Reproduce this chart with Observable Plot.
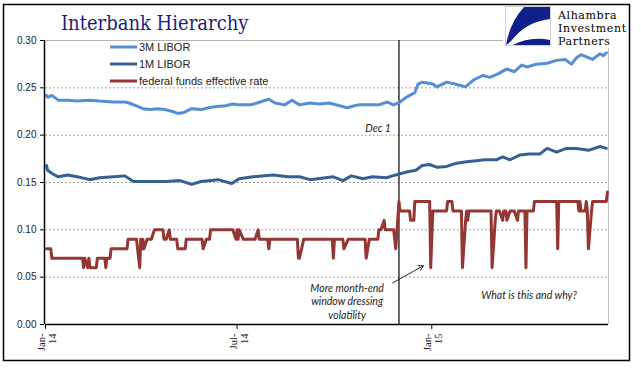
<!DOCTYPE html>
<html><head><meta charset="utf-8">
<script src="https://cdn.jsdelivr.net/npm/d3@7"></script>
<script src="https://cdn.jsdelivr.net/npm/@observablehq/plot@0.6"></script>
<style>
body{margin:0;background:#fff;}
#wrap{position:relative;width:641px;height:375px;overflow:hidden;background:#fff;}
</style></head><body><div id="wrap"></div>
<script>
// ---- data ----
const seriesNames = ["3M LIBOR", "1M LIBOR", "federal funds effective rate"];
const seriesColors = ["#558ed5", "#376092", "#943634"];

const libor3mDates = ["2014-01-02","2014-01-03","2014-01-07","2014-01-13","2014-01-22","2014-01-31","2014-02-12","2014-02-21","2014-03-06","2014-03-17","2014-03-21","2014-03-28","2014-04-03","2014-04-10","2014-04-17","2014-04-24","2014-05-01","2014-05-06","2014-05-12","2014-05-19","2014-05-28","2014-06-04","2014-06-10","2014-06-20","2014-06-27","2014-07-03","2014-07-14","2014-07-23","2014-07-31","2014-08-06","2014-08-15","2014-08-22","2014-08-29","2014-09-08","2014-09-17","2014-09-26","2014-10-06","2014-10-13","2014-10-20","2014-10-24","2014-11-03","2014-11-12","2014-11-20","2014-11-26","2014-12-02","2014-12-08","2014-12-16","2014-12-19","2014-12-23","2015-01-02","2015-01-06","2015-01-15","2015-01-23","2015-02-02","2015-02-09","2015-02-18","2015-02-25","2015-03-05","2015-03-13","2015-03-20","2015-03-27","2015-04-01","2015-04-10","2015-04-20","2015-04-29","2015-05-07","2015-05-13","2015-05-18","2015-05-22","2015-06-02","2015-06-09","2015-06-12","2015-06-15"];
const libor3mValues = [0.242,0.240,0.242,0.237,0.237,0.236,0.237,0.236,0.235,0.235,0.234,0.231,0.228,0.227,0.228,0.227,0.225,0.223,0.224,0.228,0.227,0.229,0.230,0.231,0.233,0.232,0.232,0.235,0.238,0.234,0.232,0.237,0.232,0.234,0.233,0.234,0.231,0.229,0.231,0.232,0.232,0.232,0.235,0.232,0.235,0.240,0.245,0.254,0.256,0.254,0.251,0.256,0.254,0.251,0.258,0.263,0.261,0.265,0.270,0.267,0.274,0.272,0.275,0.276,0.279,0.280,0.275,0.282,0.285,0.280,0.286,0.284,0.287];

const libor1mDates = ["2014-01-02","2014-01-03","2014-01-08","2014-01-13","2014-01-22","2014-01-31","2014-02-12","2014-02-21","2014-03-06","2014-03-17","2014-03-25","2014-04-10","2014-04-25","2014-05-08","2014-05-19","2014-05-28","2014-06-13","2014-06-26","2014-07-03","2014-07-16","2014-08-04","2014-08-18","2014-08-29","2014-09-08","2014-09-30","2014-10-09","2014-10-17","2014-10-28","2014-11-06","2014-11-19","2014-11-28","2014-12-08","2014-12-17","2014-12-23","2014-12-30","2015-01-06","2015-01-15","2015-01-23","2015-02-03","2015-02-12","2015-02-20","2015-03-03","2015-03-09","2015-03-16","2015-03-25","2015-04-03","2015-04-13","2015-04-20","2015-04-29","2015-05-08","2015-05-18","2015-05-29","2015-06-09","2015-06-15"];
const libor1mValues = [0.168,0.163,0.159,0.156,0.158,0.156,0.153,0.155,0.156,0.157,0.151,0.151,0.151,0.152,0.148,0.151,0.153,0.149,0.154,0.156,0.158,0.156,0.156,0.153,0.156,0.152,0.157,0.154,0.156,0.155,0.158,0.161,0.163,0.168,0.169,0.166,0.167,0.170,0.172,0.173,0.174,0.174,0.177,0.174,0.179,0.180,0.180,0.186,0.182,0.186,0.186,0.184,0.188,0.186];

const fedDates = ["2014-01-02","2014-01-06","2014-01-07","2014-02-05","2014-02-06","2014-02-07","2014-02-10","2014-02-11","2014-02-12","2014-02-18","2014-02-19","2014-02-26","2014-02-27","2014-02-28","2014-03-03","2014-03-04","2014-03-19","2014-03-20","2014-03-28","2014-03-31","2014-04-01","2014-04-02","2014-04-03","2014-04-04","2014-04-07","2014-04-11","2014-04-14","2014-04-22","2014-04-23","2014-04-25","2014-04-28","2014-04-29","2014-05-05","2014-05-06","2014-05-13","2014-05-14","2014-05-29","2014-05-30","2014-06-02","2014-06-05","2014-06-06","2014-06-27","2014-06-30","2014-07-01","2014-07-02","2014-07-03","2014-07-07","2014-07-18","2014-07-21","2014-07-22","2014-07-30","2014-07-31","2014-08-01","2014-08-27","2014-08-28","2014-08-29","2014-09-02","2014-09-29","2014-09-30","2014-10-01","2014-10-09","2014-10-10","2014-10-14","2014-10-30","2014-10-31","2014-11-03","2014-11-11","2014-11-12","2014-11-14","2014-11-17","2014-11-18","2014-11-26","2014-11-28","2014-12-01","2014-12-02","2014-12-11","2014-12-12","2014-12-15","2014-12-16","2014-12-30","2014-12-31","2015-01-02","2015-01-15","2015-01-16","2015-01-20","2015-01-21","2015-01-29","2015-01-30","2015-02-02","2015-02-03","2015-02-04","2015-02-05","2015-02-26","2015-02-27","2015-03-02","2015-03-03","2015-03-06","2015-03-09","2015-03-10","2015-03-12","2015-03-13","2015-03-16","2015-03-20","2015-03-23","2015-03-24","2015-03-30","2015-03-31","2015-04-01","2015-04-07","2015-04-08","2015-04-29","2015-04-30","2015-05-01","2015-05-19","2015-05-20","2015-05-21","2015-05-22","2015-05-26","2015-05-27","2015-05-28","2015-05-29","2015-06-01","2015-06-02","2015-06-15","2015-06-16"];
const fedValues = [0.08,0.08,0.07,0.07,0.06,0.07,0.06,0.07,0.06,0.06,0.07,0.07,0.06,0.07,0.07,0.08,0.08,0.09,0.09,0.06,0.09,0.08,0.09,0.08,0.09,0.09,0.10,0.10,0.09,0.09,0.10,0.09,0.09,0.08,0.08,0.09,0.09,0.08,0.09,0.09,0.10,0.10,0.09,0.10,0.09,0.10,0.09,0.09,0.10,0.09,0.09,0.08,0.09,0.09,0.07,0.07,0.09,0.09,0.07,0.09,0.09,0.08,0.09,0.09,0.07,0.09,0.09,0.10,0.10,0.11,0.10,0.10,0.08,0.13,0.12,0.12,0.11,0.11,0.13,0.13,0.06,0.12,0.12,0.13,0.13,0.12,0.12,0.06,0.11,0.12,0.11,0.12,0.12,0.06,0.11,0.12,0.12,0.11,0.12,0.12,0.11,0.12,0.12,0.11,0.12,0.12,0.06,0.12,0.12,0.13,0.13,0.08,0.13,0.13,0.12,0.13,0.12,0.12,0.13,0.12,0.08,0.12,0.13,0.13,0.14];

const yTicks = [0, 0.05, 0.10, 0.15, 0.20, 0.25, 0.30];
const xTickDates = ["2014-01-01", "2014-07-01", "2015-01-01"];
const xTickLabels = ["Jan-\n14", "Jul-\n14", "Jan-\n15"];
const markerDate = "2014-12-01";
const annotations = ["Dec 1", "More month-end\nwindow dressing\nvolatility", "What is this and why?"];

// ---- build ----
const parse = d3.utcParse("%Y-%m-%d");
const rows = (ds, vs) => ds.map((d, i) => ({date: parse(d), value: vs[i]}));
const s3m = rows(libor3mDates, libor3mValues);
const s1m = rows(libor1mDates, libor1mValues);
const sff = rows(fedDates, fedValues);
const xStart = parse("2014-01-01"), xEnd = parse("2015-06-17");
const xt = xTickDates.map(parse);
const lbl = new Map(xt.map((d, i) => [+d, xTickLabels[i]]));
const dec1 = parse(markerDate);
const italic = {fontFamily: "Lato, sans-serif", fontStyle: "italic", fontSize: 10.5, fill: "#222"};

const plot = Plot.plot({
  width: 641, height: 375,
  marginLeft: 45, marginRight: 33, marginTop: 40, marginBottom: 51,
  style: {fontFamily: "'Liberation Sans', Arial, sans-serif", fontSize: "10px", color: "#222", background: "transparent", overflow: "visible"},
  x: {type: "utc", domain: [xStart, xEnd], axis: null},
  y: {type: "linear", domain: [0, 0.30], axis: null},
  marks: [
    Plot.ruleY(yTicks.filter(v => v > 0 && v < 0.30), {stroke: "#8c8c8c", strokeDasharray: "2,2", strokeWidth: 0.8}),
    Plot.ruleY([0.30], {stroke: "#b4b4b4", strokeWidth: 1}),
    Plot.ruleX([xEnd], {stroke: "#c4c4c4", strokeWidth: 1}),
    Plot.ruleX([dec1], {stroke: "#000", strokeWidth: 1.2}),
    Plot.line(s3m, {x: "date", y: "value", stroke: seriesColors[0], strokeWidth: 3, strokeLinejoin: "round"}),
    Plot.line(s1m, {x: "date", y: "value", stroke: seriesColors[1], strokeWidth: 3, strokeLinejoin: "round"}),
    Plot.line(sff, {x: "date", y: "value", stroke: seriesColors[2], strokeWidth: 3, strokeLinejoin: "round"}),
    Plot.ruleY([0], {stroke: "#000", strokeWidth: 1.5}),
    Plot.ruleX([xStart], {stroke: "#000", strokeWidth: 1.5, dx: -1}),
    Plot.axisY({ticks: yTicks, tickFormat: d3.format(".2f"), tickSize: 4, tickPadding: 4, stroke: "#000", fill: "#222", fontSize: 10, dx: -1, label: null}),
    Plot.ruleX(xt, {x: d => d, y1: () => 0, y2: () => 0, insetBottom: -5, stroke: "#000", strokeWidth: 1}),
    Plot.text(xt, {x: d => d, y: () => 0, text: d => lbl.get(+d), rotate: -90, textAnchor: "end", lineAnchor: "middle", dy: 9, dx: 1.5, lineHeight: 1.05, fontFamily: "'Liberation Serif', 'Times New Roman', serif", fontSize: 10.5, fill: "#222"}),
    Plot.text([annotations[0]], {x: () => dec1, y: () => 0.207, text: d => d, textAnchor: "end", dx: -8, ...italic}),
    Plot.text([annotations[1]], {x: () => parse("2014-10-13"), y: () => 0.025, text: d => d, textAnchor: "middle", lineHeight: 1.28, ...italic}),
    Plot.text([annotations[2]], {x: () => parse("2015-04-03"), y: () => 0.031, text: d => d, textAnchor: "middle", ...italic}),
    Plot.arrow([0], {x1: () => parse("2014-11-25"), y1: () => 0.044, x2: () => parse("2014-12-24"), y2: () => 0.062, stroke: "#222", strokeWidth: 1, headLength: 8, bend: 0})
  ]
});

document.getElementById("wrap").appendChild(plot);
const svg = d3.select(plot);

const g = svg.append("g").attr("text-anchor", "start");
// white background for logo
g.append("rect").attr("x", 503).attr("y", 5).attr("width", 125).attr("height", 43).attr("fill", "#fff");
// logo box
g.append("rect").attr("x", 505.5).attr("y", 6.5).attr("width", 45).attr("height", 39).attr("fill", "#fff").attr("stroke", "#d0d0d0").attr("stroke-width", 1);
g.append("path").attr("d", "M524,7 L550,7 L550,19 Q526,22 512,40 Q509,43 506,45 Q510,22 524,7 Z").attr("fill", "#10208a");
g.append("path").attr("d", "M513,45 Q530,36 550,40 L550,45 Z").attr("fill", "#10208a");
const logoLines = ["Alhambra", "Investment", "Partners"];
logoLines.forEach((t, i) => g.append("text").text(t).attr("x", 558).attr("y", 19 + i * 13)
  .attr("font-family", "'DejaVu Serif', serif").attr("font-size", 11).attr("letter-spacing", 0.6).attr("fill", "#000"));
// title
g.append("text").text("Interbank Hierarchy").attr("x", 61).attr("y", 30)
  .attr("font-family", "'DejaVu Serif Condensed', 'DejaVu Serif', serif").attr("font-stretch", "condensed")
  .attr("font-size", 20).attr("fill", "#1c1c78");
// legend
seriesNames.forEach((n, i) => {
  const y = 47 + i * 17;
  g.append("line").attr("x1", 110).attr("x2", 137).attr("y1", y).attr("y2", y)
    .attr("stroke", seriesColors[i]).attr("stroke-width", 3);
  g.append("text").text(n).attr("x", 139).attr("y", y + 4)
    .attr("font-family", "'Liberation Sans', Arial, sans-serif").attr("font-size", 11).attr("fill", "#222");
});
// outer frame
g.append("rect").attr("x", 3.5).attr("y", 4.5).attr("width", 626).attr("height", 356)
  .attr("fill", "none").attr("stroke", "#000").attr("stroke-width", 1.5);
</script>
</body></html>
